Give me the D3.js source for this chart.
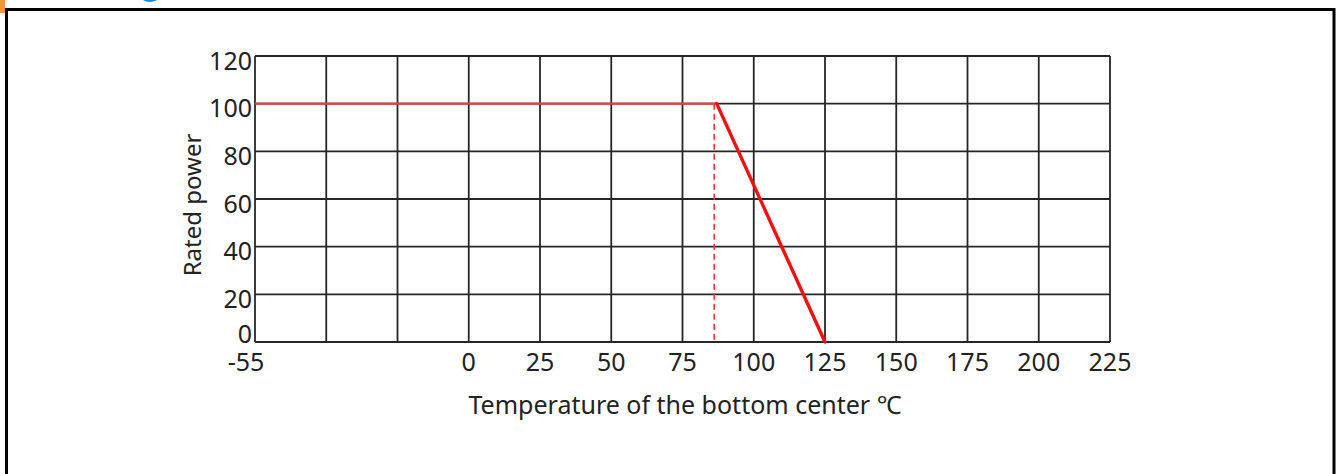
<!DOCTYPE html>
<html><head><meta charset="utf-8">
<script src="https://cdn.jsdelivr.net/npm/d3@7"></script>
<style>html,body{margin:0;padding:0;background:#fff;overflow:hidden}</style>
</head><body>
<svg id="c" width="1339" height="474"></svg>
<script>
// ---- data ----
const xTickValues = [-55, 0, 25, 50, 75, 100, 125, 150, 175, 200, 225];
const xTickLabels = ["-55", "0", "25", "50", "75", "100", "125", "150", "175", "200", "225"];
const yTickValues = [0, 20, 40, 60, 80, 100, 120];
const temps = [-55, 87, 125];
const power = [100, 100, 0];
const kneeTemp = 87;
const xTitle = "Temperature of the bottom center ℃";
const yTitle = "Rated power";

const svg = d3.select("#c");
const font = "'Noto Sans', 'Open Sans', sans-serif";

// frame decorations
svg.append("rect").attr("x", 0).attr("y", 0).attr("width", 5).attr("height", 13).attr("fill", "#f0963c");
svg.append("path").attr("d", "M143,0 Q150,4 157,0 Z").attr("fill", "#1d86d6");
svg.append("path").attr("d", "M6.5,474 V9.5 H1334 V474").attr("fill", "none").attr("stroke", "#000").attr("stroke-width", 3);

const L = 255, R = 1110, T = 56, B = 342;
// grid column index scale (13 evenly spaced columns)
const col = d3.scaleLinear().domain([0, 12]).range([L, R]);
// temperature scale: -55 at column 0, 0 at column 3, 225 at column 12
const x = d3.scaleLinear().domain([-55, 0, 225]).range([col(0), col(3), col(12)]);
const y = d3.scaleLinear().domain([0, 120]).range([B, T]);

const g = svg.append("g");
g.selectAll("line.v").data(d3.range(13)).join("line")
  .attr("x1", d => col(d)).attr("x2", d => col(d)).attr("y1", T).attr("y2", B)
  .attr("stroke", "#262626").attr("stroke-width", 1.8);
g.selectAll("line.h").data(yTickValues).join("line")
  .attr("x1", L).attr("x2", R).attr("y1", d => y(d)).attr("y2", d => y(d))
  .attr("stroke", "#262626").attr("stroke-width", 1.8);

// y labels
const yOffset = d => d === 0 ? -8 : 5;
svg.selectAll("text.yl").data(yTickValues).join("text")
  .attr("x", 252).attr("y", d => y(d) + yOffset(d)).attr("dy", "0.35em")
  .attr("text-anchor", "end").attr("font-family", font).attr("font-size", 25).attr("fill", "#222")
  .text(d => d);

// x labels
svg.selectAll("text.xl").data(xTickValues).join("text")
  .attr("x", (d, i) => x(d) + (i === 0 ? -9 : 0)).attr("y", 362).attr("dy", "0.35em")
  .attr("text-anchor", "middle").attr("font-family", font).attr("font-size", 25).attr("fill", "#222")
  .text((d, i) => xTickLabels[i]);

// titles
svg.append("text").attr("x", 685).attr("y", 405).attr("dy", "0.35em").attr("text-anchor", "middle")
  .attr("font-family", font).attr("font-size", 25).attr("fill", "#222").text(xTitle);
svg.append("text").attr("transform", "translate(193,205) rotate(-90)").attr("dy", "0.35em")
  .attr("text-anchor", "middle").attr("font-family", font).attr("font-size", 24).attr("fill", "#222").text(yTitle);

// dashed knee line
svg.append("line").attr("x1", x(kneeTemp) - 2.5).attr("x2", x(kneeTemp) - 2.5).attr("y1", y(100)).attr("y2", y(0))
  .attr("stroke", "#e8383a").attr("stroke-width", 1.6).attr("stroke-dasharray", "6,4");

// power curve
const pts = temps.map((t, i) => [x(t), y(power[i])]);
svg.append("line").attr("x1", pts[0][0]).attr("y1", pts[0][1]).attr("x2", pts[1][0]).attr("y2", pts[1][1])
  .attr("stroke", "#e8423f").attr("stroke-width", 2.2);
svg.append("line").attr("x1", pts[1][0]).attr("y1", pts[1][1]).attr("x2", pts[2][0]).attr("y2", pts[2][1])
  .attr("stroke", "#f01010").attr("stroke-width", 3.4).attr("stroke-linecap", "round");
</script>
</body></html>
